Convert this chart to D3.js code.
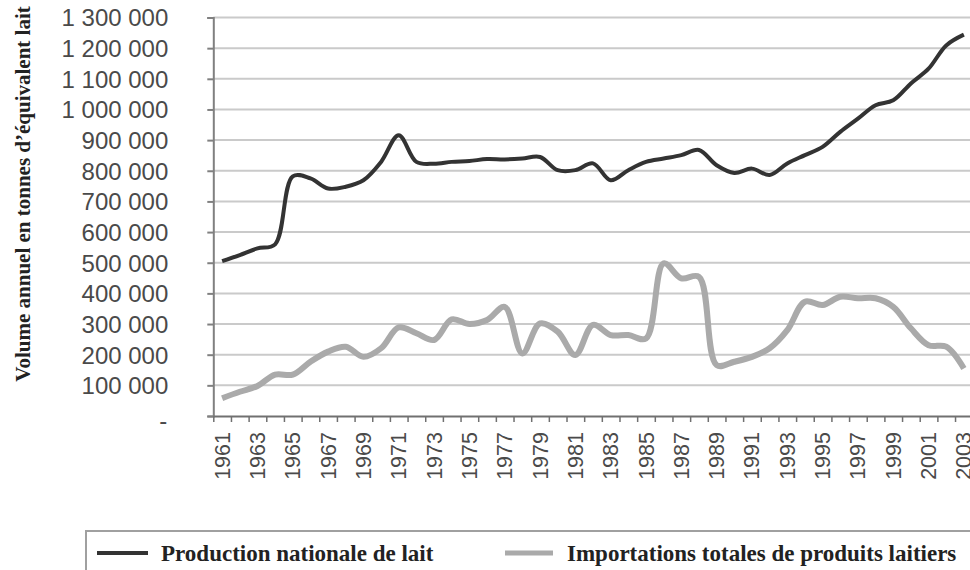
<!DOCTYPE html>
<html>
<head>
<meta charset="utf-8">
<script src="https://cdn.jsdelivr.net/npm/d3@7"></script>
<style>
  html, body { margin: 0; padding: 0; background: #fff; }
  #chart { width: 970px; height: 570px; }
</style>
</head>
<body>
<div id="chart"></div>
<script>
// years on the category axis
const years = d3.range(1961, 2004);

// national milk production (tonnes milk equivalent)
const production = [
    505000, 525000, 547000, 560000, 782000, 775000, 742000, 748000, 769000, 829000,
    916000, 829000, 823000, 829000, 832000, 838000, 837000, 840000, 845000, 802000,
    802000, 824000, 769000, 802000, 829000, 840000, 851000, 868000, 818000, 793000,
    807000, 786000, 824000, 851000, 878000, 927000, 970000, 1014000, 1030000, 1085000,
    1133000, 1209000, 1244000
];

// total dairy imports
const imports = [
    58000, 79000, 98000, 135000, 135000, 177000, 210000, 226000, 193000, 221000,
    289000, 270000, 248000, 315000, 300000, 313000, 356000, 204000, 302000, 275000,
    199000, 297000, 264000, 264000, 253000, 498000, 449000, 454000, 166000, 177000,
    193000, 221000, 280000, 373000, 362000, 389000, 384000, 384000, 356000, 286000,
    231000, 226000, 155000
];

const seriesNames = ["Production nationale de lait", "Importations totales de produits laitiers"];
const seriesColors = ["#333333", "#aaaaaa"];
const yTicks = d3.range(0, 1300001, 100000);
const yTitle = "Volume annuel en tonnes d\u2019\u00e9quivalent lait";

// plot area
const svgWidth = 970, svgHeight = 570;
const plot = { left: 213.3, right: 972.7, top: 17.5, bottom: 416 };

const svg = d3.select("#chart").append("svg")
    .attr("width", svgWidth)
    .attr("height", svgHeight)
    .style("font-family", "'Liberation Sans', Arial, sans-serif");

// scales
const x = d3.scaleBand()
    .domain(years)
    .range([plot.left, plot.right])
    .padding(0);

const xEdges = d3.scaleLinear()
    .domain([0, years.length])
    .range([plot.left, plot.right]);

const y = d3.scaleLinear()
    .domain([0, 1300000])
    .range([plot.bottom, plot.top]);

const fmt = d => d === 0 ? "-" : d3.format(",")(d).replace(/,/g, " ");

// gridlines
svg.append("g")
   .selectAll("line")
   .data(yTicks.filter(d => d > 0))
   .join("line")
   .attr("x1", plot.left)
   .attr("x2", plot.right)
   .attr("y1", d => y(d))
   .attr("y2", d => y(d))
   .attr("stroke", "#cacaca")
   .attr("stroke-width", 2);

// y axis
const yAxis = svg.append("g")
   .attr("transform", `translate(${plot.left},0)`)
   .call(d3.axisLeft(y).tickValues(yTicks).tickFormat(fmt).tickSize(6));
yAxis.select(".domain").attr("stroke", "#808080").attr("stroke-width", 2);
yAxis.selectAll(".tick line").attr("stroke", "#808080").attr("stroke-width", 2);
yAxis.selectAll(".tick text")
     .attr("x", d => d === 0 ? -46 : -45)
     .attr("fill", "#4a4a4a")
     .style("font-size", "24px")
     .attr("dy", d => d === 0 ? "0.5em" : "0.35em");

// x axis: ticks between categories
const xTickAxis = svg.append("g")
   .attr("transform", `translate(0,${plot.bottom})`)
   .call(d3.axisBottom(xEdges).tickValues(d3.range(0, years.length + 1)).tickFormat("").tickSize(6).tickSizeOuter(0));
xTickAxis.select(".domain").attr("stroke", "#707070").attr("stroke-width", 2);
xTickAxis.selectAll(".tick line").attr("stroke", "#707070").attr("stroke-width", 1.5);

// x labels: every other year, rotated
const xLabelAxis = svg.append("g")
   .attr("transform", `translate(0,${plot.bottom})`)
   .call(d3.axisBottom(x).tickValues(years.filter(d => d % 2 === 1)).tickSize(0));
xLabelAxis.select(".domain").remove();
xLabelAxis.selectAll(".tick text")
   .attr("transform", "rotate(-90)")
   .attr("text-anchor", "end")
   .attr("x", -16)
   .attr("y", 0)
   .attr("dy", "0.35em")
   .attr("fill", "#4a4a4a")
   .style("font-size", "21.5px");

// lines (smoothed like the spreadsheet original)
const line = d3.line()
    .x((d, i) => x(years[i]) + x.bandwidth() / 2)
    .y(d => y(d))
    .curve(d3.curveCatmullRom.alpha(0.5));

svg.append("path")
   .datum(imports)
   .attr("fill", "none")
   .attr("stroke", seriesColors[1])
   .attr("stroke-width", 6)
   .attr("stroke-linejoin", "round")
   .attr("d", line);

svg.append("path")
   .datum(production)
   .attr("fill", "none")
   .attr("stroke", seriesColors[0])
   .attr("stroke-width", 4)
   .attr("stroke-linejoin", "round")
   .attr("d", line);

// y title
svg.append("text")
   .attr("transform", "translate(30,194) rotate(-90)")
   .attr("text-anchor", "middle")
   .style("font-family", "'Liberation Serif', 'Times New Roman', serif")
   .style("font-weight", "bold")
   .style("font-size", "21px")
   .attr("fill", "#222")
   .text(yTitle);

// legend
const legend = svg.append("g");
legend.append("rect")
   .attr("x", 86)
   .attr("y", 531)
   .attr("width", 1000)
   .attr("height", 100)
   .attr("fill", "#fff")
   .attr("stroke", "#a0a0a0")
   .attr("stroke-width", 2);

const legendItems = [
    { x1: 97, x2: 148, tx: 161 },
    { x1: 505, x2: 553, tx: 567 }
];
legendItems.forEach((it, i) => {
    legend.append("line")
       .attr("x1", it.x1).attr("x2", it.x2)
       .attr("y1", 553).attr("y2", 553)
       .attr("stroke", seriesColors[i])
       .attr("stroke-width", i === 0 ? 4 : 5);
    legend.append("text")
       .attr("x", it.tx)
       .attr("y", 553)
       .attr("dy", "0.35em")
       .style("font-family", "'Liberation Serif', 'Times New Roman', serif")
       .style("font-weight", "bold")
       .style("font-size", "23px")
       .attr("fill", "#222")
       .text(seriesNames[i]);
});
</script>
</body>
</html>
